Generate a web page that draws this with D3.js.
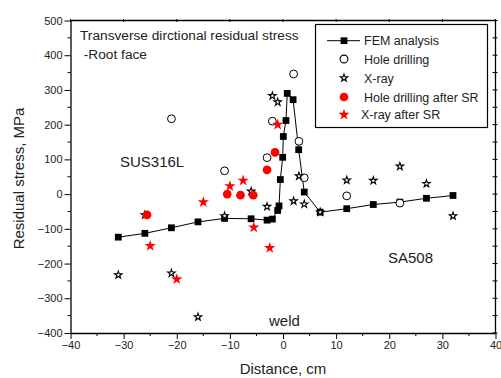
<!DOCTYPE html>
<html>
<head>
<meta charset="utf-8">
<script src="https://d3js.org/d3.v7.min.js"></script>
<style>
  body { margin: 0; background: #fff; }
  text { font-family: "Liberation Sans", Arial, sans-serif; }
</style>
</head>
<body>
<div id="chart"></div>
<script>
// residual stress data (distance cm, stress MPa)
const femX = [-31, -26, -21, -16, -11, -6, -3, -2, -1, -0.75, -0.5, -0.06, 0.06, 0.56, 0.8, 1.9, 2.95, 4, 7, 12, 17, 22, 27, 32];
const femY = [-124, -113, -97, -80, -70, -71, -75, -72, -47, -34, 42, 106, 166, 212, 290, 272, 128, 6, -52, -42, -30, -23, -12, -4];

const holeX = [-21, -11, -3, -2, 2, 3, 4, 12, 22];
const holeY = [217, 67, 105, 210, 346, 152, 47, -5, -26];

const xrayX = [-31, -26, -21, -16, -11, -6, -3, -2, -1, 2, 3, 4, 7, 12, 17, 22, 27, 32];
const xrayY = [-233, -60, -228, -354, -63, 8, -36, 283, 265, -20, 52, -29, -52, 40, 39, 80, 30, -63];

const holeSRX = [-25.6, -10.5, -8, -5.6, -3, -1.5];
const holeSRY = [-60, 0, -3, -3, 70, 120];

const xraySRX = [-25, -20, -15, -10, -7.5, -5.5, -2.5, -1];
const xraySRY = [-149, -245, -23, 23, 39, -96, -155, 200];

const xTicks = [-40, -30, -20, -10, 0, 10, 20, 30, 40];
const yTicks = [-400, -300, -200, -100, 0, 100, 200, 300, 400, 500];

const legendNames = ["FEM analysis", "Hole drilling", "X-ray", "Hole drilling after SR", "X-ray after SR"];

const width = 501, height = 378;
const svg = d3.select("#chart").append("svg")
    .attr("width", width)
    .attr("height", height);

const x = d3.scaleLinear().domain([-40, 40]).range([70.5, 495.5]);
const y = d3.scaleLinear().domain([-400, 500]).range([333, 20.5]);

const zip = (a, b) => a.map((d, i) => [d, b[i]]);

//axes
const xAxis = svg.append("g")
    .attr("transform", "translate(0," + y(-400) + ")")
    .call(d3.axisBottom(x).tickValues(xTicks).tickSize(6).tickSizeOuter(0).tickPadding(2));
xAxis.selectAll("line.minor")
    .data(d3.range(-35, 40, 10))
    .enter().append("line")
    .attr("x1", d => x(d)).attr("x2", d => x(d))
    .attr("y1", 0).attr("y2", 3)
    .attr("stroke", "black");

const yAxis = svg.append("g")
    .attr("transform", "translate(" + x(-40) + ",0)")
    .call(d3.axisLeft(y).tickValues(yTicks).tickSize(6).tickSizeOuter(0).tickPadding(2));
yAxis.selectAll("line.minor")
    .data(d3.range(-350, 500, 100))
    .enter().append("line")
    .attr("y1", d => y(d)).attr("y2", d => y(d))
    .attr("x1", 0).attr("x2", -3)
    .attr("stroke", "black");

[xAxis, yAxis].forEach(a => {
    a.select(".domain").attr("stroke-width", 1.3);
    a.selectAll("text").style("font-size", "11px").attr("fill", "#222");
});

//top and right frame
svg.append("line")
    .attr("x1", x(-40)).attr("x2", x(40))
    .attr("y1", y(500)).attr("y2", y(500))
    .attr("stroke", "black").attr("stroke-width", 1.3);
svg.append("line")
    .attr("x1", x(40)).attr("x2", x(40))
    .attr("y1", y(500)).attr("y2", y(-400))
    .attr("stroke", "black").attr("stroke-width", 1.3);
svg.selectAll(".topTick")
    .data(d3.range(-40, 41, 10))
    .enter().append("line")
    .attr("x1", d => x(d)).attr("x2", d => x(d))
    .attr("y1", y(500) - 1.5).attr("y2", y(500) + 1.5)
    .attr("stroke", "black");
svg.selectAll(".rightTick")
    .data(d3.range(-400, 501, 50))
    .enter().append("line")
    .attr("y1", d => y(d)).attr("y2", d => y(d))
    .attr("x1", x(40) - 3).attr("x2", x(40) + 2)
    .attr("stroke", "black");

//axis titles
svg.append("text")
    .attr("x", x(0)).attr("y", 374)
    .attr("text-anchor", "middle")
    .style("font-size", "15px")
    .attr("fill", "#222")
    .text("Distance, cm");
svg.append("text")
    .attr("transform", "translate(24," + y(45) + ") rotate(-90)")
    .attr("text-anchor", "middle")
    .style("font-size", "15px")
    .attr("fill", "#222")
    .text("Residual stress, MPa");

//annotations
const notes = [
    {t: "Transverse dirctional residual stress", x: 80, y: 40, s: 13.7},
    {t: " -Root face", x: 80, y: 59, s: 13.7},
    {t: "SUS316L", x: 120, y: 167, s: 15},
    {t: "SA508", x: 388, y: 263, s: 15},
    {t: "weld", x: 269, y: 326, s: 15}
];
svg.selectAll(".note")
    .data(notes)
    .enter().append("text")
    .attr("x", d => d.x).attr("y", d => d.y)
    .style("font-size", d => d.s + "px")
    .style("white-space", "pre")
    .attr("fill", "#222")
    .text(d => d.t);

//FEM line
const fem = zip(femX, femY);
svg.append("path")
    .datum(fem)
    .attr("d", d3.line().x(d => x(d[0])).y(d => y(d[1])))
    .attr("fill", "none")
    .attr("stroke", "black")
    .attr("stroke-width", 1);

const sq = d3.symbol().type(d3.symbolSquare).size(46)();
const circ = d3.symbol().type(d3.symbolCircle).size(48)();
const starOpen = d3.symbol().type(d3.symbolStar).size(17)();
const starRed = d3.symbol().type(d3.symbolStar).size(40)();
const circRed = d3.symbol().type(d3.symbolCircle).size(60)();

function drawPts(data, path, fill, stroke, sw) {
    svg.append("g").selectAll("path")
        .data(data)
        .enter().append("path")
        .attr("d", path)
        .attr("transform", d => "translate(" + x(d[0]) + "," + y(d[1]) + ")")
        .attr("fill", fill)
        .attr("stroke", stroke)
        .attr("stroke-width", sw);
}

drawPts(fem, sq, "black", "none", 0);
drawPts(zip(holeX, holeY), circ, "white", "black", 1);
drawPts(zip(xrayX, xrayY), starOpen, "white", "black", 1.1);
drawPts(zip(holeSRX, holeSRY), circRed, "#ff0000", "none", 0);
drawPts(zip(xraySRX, xraySRY), starRed, "#ff0000", "none", 0);

//legend
const lg = svg.append("g");
lg.append("rect")
    .attr("x", 315.5).attr("y", 24.5)
    .attr("width", 172).attr("height", 103)
    .attr("fill", "white")
    .attr("stroke", "black")
    .attr("stroke-width", 1.2);
const legendY = [40.7, 59, 78, 97, 114.7];
const legendSym = [sq, circ, starOpen, circRed, starRed];
const legendFill = ["black", "white", "white", "#ff0000", "#ff0000"];
const legendStroke = ["none", "black", "black", "none", "none"];
const legendTx = [364, 364, 364, 364, 361];
lg.append("line")
    .attr("x1", 327).attr("x2", 360)
    .attr("y1", legendY[0]).attr("y2", legendY[0])
    .attr("stroke", "black");
legendNames.forEach((n, i) => {
    lg.append("path")
        .attr("d", legendSym[i])
        .attr("transform", "translate(344," + legendY[i] + ")")
        .attr("fill", legendFill[i])
        .attr("stroke", legendStroke[i])
        .attr("stroke-width", 1.1);
    lg.append("text")
        .attr("x", legendTx[i]).attr("y", legendY[i] + 4.5)
        .style("font-size", "12.5px")
        .attr("fill", "#222")
        .text(n);
});
</script>
</body>
</html>
